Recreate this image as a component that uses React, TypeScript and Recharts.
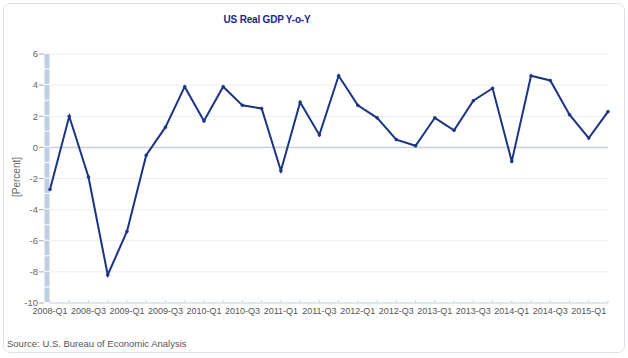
import React from 'react';
import { LineChart, Line, XAxis, YAxis, CartesianGrid, ReferenceLine } from 'recharts';

const quarters = [
  '2008-Q1','2008-Q2','2008-Q3','2008-Q4',
  '2009-Q1','2009-Q2','2009-Q3','2009-Q4',
  '2010-Q1','2010-Q2','2010-Q3','2010-Q4',
  '2011-Q1','2011-Q2','2011-Q3','2011-Q4',
  '2012-Q1','2012-Q2','2012-Q3','2012-Q4',
  '2013-Q1','2013-Q2','2013-Q3','2013-Q4',
  '2014-Q1','2014-Q2','2014-Q3','2014-Q4',
  '2015-Q1','2015-Q2',
];
const gdp = [
  -2.7, 2.0, -1.9, -8.2,
  -5.4, -0.5, 1.3, 3.9,
  1.7, 3.9, 2.7, 2.5,
  -1.5, 2.9, 0.8, 4.6,
  2.7, 1.9, 0.5, 0.1,
  1.9, 1.1, 3.0, 3.8,
  -0.9, 4.6, 4.3, 2.1,
  0.6, 2.3,
];
const yTicks = [-10, -8, -6, -4, -2, 0, 2, 4, 6];

const title = 'US Real GDP Y-o-Y';
const yLabel = '[Percent]';
const source = 'Source: U.S. Bureau of Economic Analysis';

const data = quarters.map((q, i) => ({ q, v: gdp[i] }));

const FONT = '"Liberation Sans", Arial, sans-serif';

export default function App() {
  return (
    <div style={{ position: 'fixed', left: 0, top: 0, width: 628, height: 358, background: '#fff', fontFamily: FONT }}>
      <div style={{ position: 'absolute', left: 3, top: 3, width: 622, height: 350, boxSizing: 'border-box', border: '1px solid #dae2ee', borderRadius: 7 }} />
      <div style={{ position: 'absolute', left: 167, width: 200, top: 14, textAlign: 'center', fontSize: 10, letterSpacing: -0.2, fontWeight: 'bold', color: '#1c2590' }}>{title}</div>
      <div style={{ position: 'absolute', left: 16, top: 177, width: 0, height: 0 }}>
        <div style={{ position: 'absolute', transform: 'translate(-50%,-50%) rotate(-90deg)', fontSize: 10, color: '#666', whiteSpace: 'nowrap' }}>{yLabel}</div>
      </div>
      <div style={{ position: 'absolute', left: 7, top: 338, fontSize: 9.5, color: '#555', whiteSpace: 'nowrap' }}>{source}</div>
      <div style={{ position: 'absolute', left: 0, top: 0 }}>
        <LineChart width={628} height={358} data={data} margin={{ top: 54, right: 20, left: 0, bottom: 0 }}>
          <CartesianGrid vertical={false} stroke="#ededed" />
          <ReferenceLine y={0} stroke="#c6d0de" strokeWidth={1.5} />
          <XAxis
            dataKey="q"
            interval={0}
            height={55}
            tickSize={3}
            tickMargin={2}
            tickFormatter={(v: string, i: number) => (i % 2 === 0 ? v : '')}
            axisLine={{ stroke: '#c8d7ea' }}
            tickLine={{ stroke: '#c8d7ea', transform: 'translate(0,-3)' }}
            tick={{ fontSize: 9, fill: '#555', fontFamily: FONT }}
          />
          <YAxis
            width={50}
            domain={[-10, 6]}
            ticks={yTicks}
            interval={0}
            tickSize={5}
            tickMargin={7}
            axisLine={{ stroke: '#bfcfe3', strokeWidth: 5, strokeDasharray: '14.56 1', transform: 'translate(-3,0)' }}
            tickLine={{ stroke: '#aaa', transform: 'translate(-6,0)' }}
            tick={{ fontSize: 9.5, fill: '#666', fontFamily: FONT }}
          />
          <Line
            type="linear"
            dataKey="v"
            stroke="#1b3483"
            strokeWidth={2}
            dot={{ r: 1.5, fill: '#1b3483', stroke: '#1b3483', strokeWidth: 0.5 }}
            isAnimationActive={false}
          />
        </LineChart>
      </div>
    </div>
  );
}
